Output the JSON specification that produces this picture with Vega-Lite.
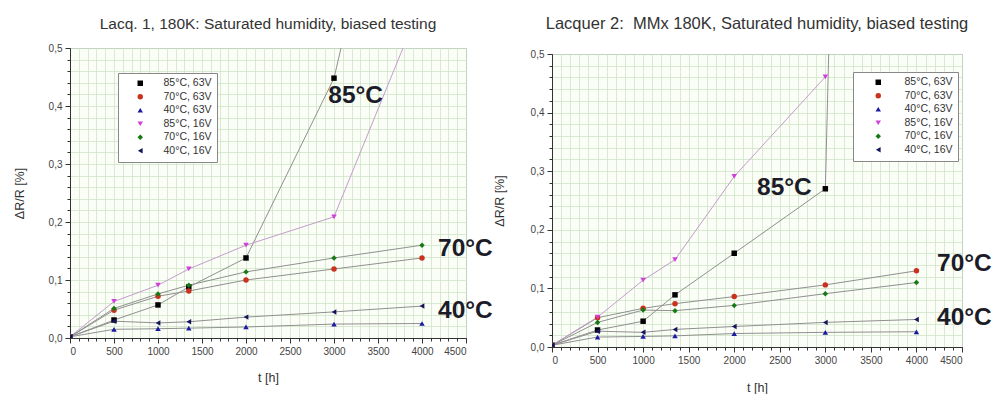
{
  "$schema": "https://vega.github.io/schema/vega-lite/v6.json",
  "background": "white",
  "padding": {"left": 12, "top": 15, "right": 2, "bottom": 2},
  "spacing": 86,
  "bounds": "flush",
  "config": {
    "font": "Liberation Sans",
    "view": {"fill": "#fbfdf7", "stroke": "#8a92aa", "strokeWidth": 1},
    "title": {"fontSize": 15.5, "fontWeight": "normal", "color": "#333333", "anchor": "middle"},
    "axis": {
      "domainColor": "#333333",
      "tickColor": "#333333",
      "labelColor": "#444444",
      "labelFontSize": 10,
      "titleFontSize": 12.5,
      "titleFontWeight": "normal",
      "titleColor": "#333333",
      "labelPadding": 3
    },
    "legend": {
      "orient": "none",
      "strokeColor": "#888888",
      "fillColor": "#ffffff",
      "padding": 5,
      "labelFontSize": 10.5,
      "labelColor": "#333333",
      "symbolSize": 30,
      "symbolOffset": 12,
      "labelOffset": 18,
      "rowPadding": 2.5,
      "symbolStrokeWidth": 0
    }
  },
  "datasets": {
    "lacq1": [
      {"series": "85°C, 63V", "t": 0, "v": 0.002}, {"series": "85°C, 63V", "t": 500, "v": 0.031}, {"series": "85°C, 63V", "t": 1000, "v": 0.057}, {"series": "85°C, 63V", "t": 1350, "v": 0.088}, {"series": "85°C, 63V", "t": 2000, "v": 0.138}, {"series": "85°C, 63V", "t": 3000, "v": 0.448}, {"series": "85°C, 63V", "t": 4000, "v": 1.1},
      {"series": "70°C, 63V", "t": 0, "v": 0.002}, {"series": "70°C, 63V", "t": 500, "v": 0.048}, {"series": "70°C, 63V", "t": 1000, "v": 0.072}, {"series": "70°C, 63V", "t": 1350, "v": 0.081}, {"series": "70°C, 63V", "t": 2000, "v": 0.1}, {"series": "70°C, 63V", "t": 3000, "v": 0.119}, {"series": "70°C, 63V", "t": 4000, "v": 0.138},
      {"series": "40°C, 63V", "t": 0, "v": 0.002}, {"series": "40°C, 63V", "t": 500, "v": 0.015}, {"series": "40°C, 63V", "t": 1000, "v": 0.016}, {"series": "40°C, 63V", "t": 1350, "v": 0.017}, {"series": "40°C, 63V", "t": 2000, "v": 0.019}, {"series": "40°C, 63V", "t": 3000, "v": 0.024}, {"series": "40°C, 63V", "t": 4000, "v": 0.025},
      {"series": "85°C, 16V", "t": 0, "v": 0.002}, {"series": "85°C, 16V", "t": 500, "v": 0.063}, {"series": "85°C, 16V", "t": 1000, "v": 0.091}, {"series": "85°C, 16V", "t": 1350, "v": 0.119}, {"series": "85°C, 16V", "t": 2000, "v": 0.16}, {"series": "85°C, 16V", "t": 3000, "v": 0.209}, {"series": "85°C, 16V", "t": 4000, "v": 0.58},
      {"series": "70°C, 16V", "t": 0, "v": 0.002}, {"series": "70°C, 16V", "t": 500, "v": 0.051}, {"series": "70°C, 16V", "t": 1000, "v": 0.076}, {"series": "70°C, 16V", "t": 1350, "v": 0.091}, {"series": "70°C, 16V", "t": 2000, "v": 0.114}, {"series": "70°C, 16V", "t": 3000, "v": 0.138}, {"series": "70°C, 16V", "t": 4000, "v": 0.16},
      {"series": "40°C, 16V", "t": 0, "v": 0.002}, {"series": "40°C, 16V", "t": 500, "v": 0.029}, {"series": "40°C, 16V", "t": 1000, "v": 0.026}, {"series": "40°C, 16V", "t": 1350, "v": 0.028}, {"series": "40°C, 16V", "t": 2000, "v": 0.036}, {"series": "40°C, 16V", "t": 3000, "v": 0.045}, {"series": "40°C, 16V", "t": 4000, "v": 0.055}
    ],
    "lacq2": [
      {"series": "85°C, 63V", "t": 0, "v": 0.003}, {"series": "85°C, 63V", "t": 500, "v": 0.029}, {"series": "85°C, 63V", "t": 1000, "v": 0.044}, {"series": "85°C, 63V", "t": 1350, "v": 0.089}, {"series": "85°C, 63V", "t": 2000, "v": 0.16}, {"series": "85°C, 63V", "t": 3000, "v": 0.27}, {"series": "85°C, 63V", "t": 4000, "v": 6.5},
      {"series": "70°C, 63V", "t": 0, "v": 0.003}, {"series": "70°C, 63V", "t": 500, "v": 0.05}, {"series": "70°C, 63V", "t": 1000, "v": 0.066}, {"series": "70°C, 63V", "t": 1350, "v": 0.074}, {"series": "70°C, 63V", "t": 2000, "v": 0.086}, {"series": "70°C, 63V", "t": 3000, "v": 0.106}, {"series": "70°C, 63V", "t": 4000, "v": 0.13},
      {"series": "40°C, 63V", "t": 0, "v": 0.003}, {"series": "40°C, 63V", "t": 500, "v": 0.017}, {"series": "40°C, 63V", "t": 1000, "v": 0.018}, {"series": "40°C, 63V", "t": 1350, "v": 0.019}, {"series": "40°C, 63V", "t": 2000, "v": 0.023}, {"series": "40°C, 63V", "t": 3000, "v": 0.025}, {"series": "40°C, 63V", "t": 4000, "v": 0.026},
      {"series": "85°C, 16V", "t": 0, "v": 0.003}, {"series": "85°C, 16V", "t": 500, "v": 0.051}, {"series": "85°C, 16V", "t": 1000, "v": 0.114}, {"series": "85°C, 16V", "t": 1350, "v": 0.149}, {"series": "85°C, 16V", "t": 2000, "v": 0.291}, {"series": "85°C, 16V", "t": 3000, "v": 0.461},
      {"series": "70°C, 16V", "t": 0, "v": 0.003}, {"series": "70°C, 16V", "t": 500, "v": 0.042}, {"series": "70°C, 16V", "t": 1000, "v": 0.063}, {"series": "70°C, 16V", "t": 1350, "v": 0.062}, {"series": "70°C, 16V", "t": 2000, "v": 0.071}, {"series": "70°C, 16V", "t": 3000, "v": 0.091}, {"series": "70°C, 16V", "t": 4000, "v": 0.11},
      {"series": "40°C, 16V", "t": 0, "v": 0.003}, {"series": "40°C, 16V", "t": 500, "v": 0.027}, {"series": "40°C, 16V", "t": 1000, "v": 0.025}, {"series": "40°C, 16V", "t": 1350, "v": 0.03}, {"series": "40°C, 16V", "t": 2000, "v": 0.035}, {"series": "40°C, 16V", "t": 3000, "v": 0.042}, {"series": "40°C, 16V", "t": 4000, "v": 0.047}
    ],
    "ann1": [
      {"label": "85°C", "t": 2935, "v": 0.417},
      {"label": "70°C", "t": 4182, "v": 0.153},
      {"label": "40°C", "t": 4182, "v": 0.047}
    ],
    "ann2": [
      {"label": "85°C", "t": 2250, "v": 0.272},
      {"label": "70°C", "t": 4226, "v": 0.142},
      {"label": "40°C", "t": 4226, "v": 0.05}
    ],
    "blank": [{}]
  },
  "resolve": {
    "scale": {"color": "independent", "shape": "independent"},
    "legend": {"color": "independent", "shape": "independent"}
  },
  "hconcat": [
    {
      "width": 396,
      "height": 290,
      "title": {"text": "Lacq. 1, 180K: Saturated humidity, biased testing", "offset": 11},
      "resolve": {"axis": {"x": "independent", "y": "independent"}},
      "layer": [
        {
          "data": {"name": "lacq1"},
          "mark": {"type": "line", "clip": true, "strokeWidth": 1},
          "encoding": {
            "x": {"field": "t", "type": "quantitative", "scale": {"domain": [0, 4500], "nice": false}, "title": null,
              "axis": {"orient": "bottom", "values": [0,100,200,300,400,500,600,700,800,900,1000,1100,1200,1300,1400,1500,1600,1700,1800,1900,2000,2100,2200,2300,2400,2500,2600,2700,2800,2900,3000,3100,3200,3300,3400,3500,3600,3700,3800,3900,4000,4100,4200,4300,4400,4500], "labels": false, "domain": false, "tickSize": 3, "gridColor": "#cfe5c6", "gridWidth": 0.8}},
            "y": {"field": "v", "type": "quantitative", "scale": {"domain": [0, 0.5], "nice": false}, "title": null,
              "axis": {"orient": "left", "values": [0,0.02,0.04,0.06,0.08,0.1,0.12,0.14,0.16,0.18,0.2,0.22,0.24,0.26,0.28,0.3,0.32,0.34,0.36,0.38,0.4,0.42,0.44,0.46,0.48,0.5], "labels": false, "domain": false, "tickSize": 3, "gridColor": "#cfe5c6", "gridWidth": 0.8}},
            "detail": {"field": "series"},
            "color": {"condition": {"test": "datum.series === '85°C, 16V'", "value": "#c39ccc"}, "value": "#909090"}
          }
        },
        {
          "data": {"name": "lacq1"},
          "mark": {"type": "point", "filled": true, "opacity": 1, "clip": true, "size": 30},
          "encoding": {
            "x": {"field": "t", "type": "quantitative", "title": "t [h]",
              "axis": {"orient": "bottom", "values": [0,500,1000,1500,2000,2500,3000,3500,4000,4500], "format": "d", "labelOverlap": false, "tickSize": 5, "gridColor": "#8890aa", "gridWidth": 1.3, "titlePadding": 15}},
            "y": {"field": "v", "type": "quantitative", "title": "ΔR/R  [%]",
              "axis": {"orient": "left", "values": [0,0.1,0.2,0.3,0.4,0.5], "labelExpr": "replace(format(datum.value, '.1f'), '.', ',')", "labelOverlap": false, "tickSize": 5, "gridColor": "#8890aa", "gridWidth": 1.3, "titlePadding": 22}},
            "color": {"field": "series", "type": "nominal", "scale": {"domain": ["85°C, 63V", "70°C, 63V", "40°C, 63V", "85°C, 16V", "70°C, 16V", "40°C, 16V"], "range": ["#000000", "#c8321e", "#1a1aa0", "#d040d8", "#157a15", "#14145a"]},
              "legend": {"title": null, "legendX": 48, "legendY": 25,
                "encode": {"symbols": {"update": {"shape": {"signal": "datum.value === '85°C, 63V' ? 'M-4.4,-0.15H4.4V0.15H-4.4Z M-1,-1H1V1H-1Z' : datum.value === '70°C, 63V' ? 'M-4.4,-0.15H4.4V0.15H-4.4Z M-1,0A1,1,0,1,1,1,0A1,1,0,1,1,-1,0Z' : datum.value === '40°C, 63V' ? 'M-4.4,-0.15H4.4V0.15H-4.4Z M0,-1.1L1.1,0.9H-1.1Z' : datum.value === '85°C, 16V' ? 'M-4.4,-0.15H4.4V0.15H-4.4Z M0,1.1L1.1,-0.9H-1.1Z' : datum.value === '70°C, 16V' ? 'M-4.4,-0.15H4.4V0.15H-4.4Z M0,-1.2L0.9,0L0,1.2L-0.9,0Z' : 'M-4.4,-0.15H4.4V0.15H-4.4Z M-1.1,0L0.9,-1.1V1.1Z'"}}}}}},
            "shape": {"field": "series", "type": "nominal", "scale": {"domain": ["85°C, 63V", "70°C, 63V", "40°C, 63V", "85°C, 16V", "70°C, 16V", "40°C, 16V"], "range": ["square", "circle", "triangle-up", "triangle-down", "diamond", "triangle-left"]},
              "legend": {"title": null, "legendX": 48, "legendY": 25,
                "encode": {"symbols": {"update": {"shape": {"signal": "datum.value === '85°C, 63V' ? 'M-4.4,-0.15H4.4V0.15H-4.4Z M-1,-1H1V1H-1Z' : datum.value === '70°C, 63V' ? 'M-4.4,-0.15H4.4V0.15H-4.4Z M-1,0A1,1,0,1,1,1,0A1,1,0,1,1,-1,0Z' : datum.value === '40°C, 63V' ? 'M-4.4,-0.15H4.4V0.15H-4.4Z M0,-1.1L1.1,0.9H-1.1Z' : datum.value === '85°C, 16V' ? 'M-4.4,-0.15H4.4V0.15H-4.4Z M0,1.1L1.1,-0.9H-1.1Z' : datum.value === '70°C, 16V' ? 'M-4.4,-0.15H4.4V0.15H-4.4Z M0,-1.2L0.9,0L0,1.2L-0.9,0Z' : 'M-4.4,-0.15H4.4V0.15H-4.4Z M-1.1,0L0.9,-1.1V1.1Z'"}}}}}}
          }
        },
        {
          "data": {"name": "ann1"},
          "mark": {"type": "text", "align": "left", "baseline": "middle", "fontSize": 24.5, "fontWeight": "bold", "color": "#1c1c28"},
          "encoding": {
            "x": {"field": "t", "type": "quantitative", "axis": null},
            "y": {"field": "v", "type": "quantitative", "axis": null},
            "text": {"field": "label"}
          }
        }
      ]
    },
    {
      "bounds": "flush",
      "spacing": 5,
      "vconcat": [
        {
          "width": 410,
          "height": 1,
          "view": {"stroke": null, "fill": null},
          "data": {"name": "blank"},
          "mark": {"type": "rule", "opacity": 0},
          "encoding": {}
        },
        {
          "width": 410,
          "height": 293,
          "title": {"text": "Lacquer 2:\u00a0 MMx 180K, Saturated humidity, biased testing", "offset": 17, "fontSize": 16.5},
          "resolve": {"axis": {"x": "independent", "y": "independent"}},
          "layer": [
            {
              "data": {"name": "lacq2"},
              "mark": {"type": "line", "clip": true, "strokeWidth": 1},
              "encoding": {
                "x": {"field": "t", "type": "quantitative", "scale": {"domain": [0, 4500], "nice": false}, "title": null,
                  "axis": {"orient": "bottom", "values": [0,100,200,300,400,500,600,700,800,900,1000,1100,1200,1300,1400,1500,1600,1700,1800,1900,2000,2100,2200,2300,2400,2500,2600,2700,2800,2900,3000,3100,3200,3300,3400,3500,3600,3700,3800,3900,4000,4100,4200,4300,4400,4500], "labels": false, "domain": false, "tickSize": 3, "gridColor": "#cfe5c6", "gridWidth": 0.8}},
                "y": {"field": "v", "type": "quantitative", "scale": {"domain": [0, 0.5], "nice": false}, "title": null,
                  "axis": {"orient": "left", "values": [0,0.02,0.04,0.06,0.08,0.1,0.12,0.14,0.16,0.18,0.2,0.22,0.24,0.26,0.28,0.3,0.32,0.34,0.36,0.38,0.4,0.42,0.44,0.46,0.48,0.5], "labels": false, "domain": false, "tickSize": 3, "gridColor": "#cfe5c6", "gridWidth": 0.8}},
                "detail": {"field": "series"},
                "color": {"condition": {"test": "datum.series === '85°C, 16V'", "value": "#c39ccc"}, "value": "#909090"}
              }
            },
            {
              "data": {"name": "lacq2"},
              "mark": {"type": "point", "filled": true, "opacity": 1, "clip": true, "size": 30},
              "encoding": {
                "x": {"field": "t", "type": "quantitative", "title": "t [h]",
                  "axis": {"orient": "bottom", "values": [0,500,1000,1500,2000,2500,3000,3500,4000,4500], "format": "d", "labelOverlap": false, "tickSize": 5, "gridColor": "#8890aa", "gridWidth": 1.3, "titlePadding": 16}},
                "y": {"field": "v", "type": "quantitative", "title": "ΔR/R  [%]",
                  "axis": {"orient": "left", "values": [0,0.1,0.2,0.3,0.4,0.5], "labelExpr": "replace(format(datum.value, '.1f'), '.', ',')", "labelOverlap": false, "tickSize": 5, "gridColor": "#8890aa", "gridWidth": 1.3, "titlePadding": 24}},
                "color": {"field": "series", "type": "nominal", "scale": {"domain": ["85°C, 63V", "70°C, 63V", "40°C, 63V", "85°C, 16V", "70°C, 16V", "40°C, 16V"], "range": ["#000000", "#c8321e", "#1a1aa0", "#d040d8", "#157a15", "#14145a"]},
                  "legend": {"title": null, "legendX": 301, "legendY": 24, "symbolOffset": 15, "labelOffset": 21,
                    "encode": {"symbols": {"update": {"shape": {"signal": "datum.value === '85°C, 63V' ? 'M-4.8,-0.15H4.8V0.15H-4.8Z M-1,-1H1V1H-1Z' : datum.value === '70°C, 63V' ? 'M-4.8,-0.15H4.8V0.15H-4.8Z M-1,0A1,1,0,1,1,1,0A1,1,0,1,1,-1,0Z' : datum.value === '40°C, 63V' ? 'M-4.8,-0.15H4.8V0.15H-4.8Z M0,-1.1L1.1,0.9H-1.1Z' : datum.value === '85°C, 16V' ? 'M-4.8,-0.15H4.8V0.15H-4.8Z M0,1.1L1.1,-0.9H-1.1Z' : datum.value === '70°C, 16V' ? 'M-4.8,-0.15H4.8V0.15H-4.8Z M0,-1.2L0.9,0L0,1.2L-0.9,0Z' : 'M-4.8,-0.15H4.8V0.15H-4.8Z M-1.1,0L0.9,-1.1V1.1Z'"}}}}}},
                "shape": {"field": "series", "type": "nominal", "scale": {"domain": ["85°C, 63V", "70°C, 63V", "40°C, 63V", "85°C, 16V", "70°C, 16V", "40°C, 16V"], "range": ["square", "circle", "triangle-up", "triangle-down", "diamond", "triangle-left"]},
                  "legend": {"title": null, "legendX": 301, "legendY": 24, "symbolOffset": 15, "labelOffset": 21,
                    "encode": {"symbols": {"update": {"shape": {"signal": "datum.value === '85°C, 63V' ? 'M-4.8,-0.15H4.8V0.15H-4.8Z M-1,-1H1V1H-1Z' : datum.value === '70°C, 63V' ? 'M-4.8,-0.15H4.8V0.15H-4.8Z M-1,0A1,1,0,1,1,1,0A1,1,0,1,1,-1,0Z' : datum.value === '40°C, 63V' ? 'M-4.8,-0.15H4.8V0.15H-4.8Z M0,-1.1L1.1,0.9H-1.1Z' : datum.value === '85°C, 16V' ? 'M-4.8,-0.15H4.8V0.15H-4.8Z M0,1.1L1.1,-0.9H-1.1Z' : datum.value === '70°C, 16V' ? 'M-4.8,-0.15H4.8V0.15H-4.8Z M0,-1.2L0.9,0L0,1.2L-0.9,0Z' : 'M-4.8,-0.15H4.8V0.15H-4.8Z M-1.1,0L0.9,-1.1V1.1Z'"}}}}}}
              }
            },
            {
              "data": {"name": "ann2"},
              "mark": {"type": "text", "align": "left", "baseline": "middle", "fontSize": 24.5, "fontWeight": "bold", "color": "#1c1c28"},
              "encoding": {
                "x": {"field": "t", "type": "quantitative", "axis": null},
                "y": {"field": "v", "type": "quantitative", "axis": null},
                "text": {"field": "label"}
              }
            }
          ]
        }
      ]
    }
  ]
}
